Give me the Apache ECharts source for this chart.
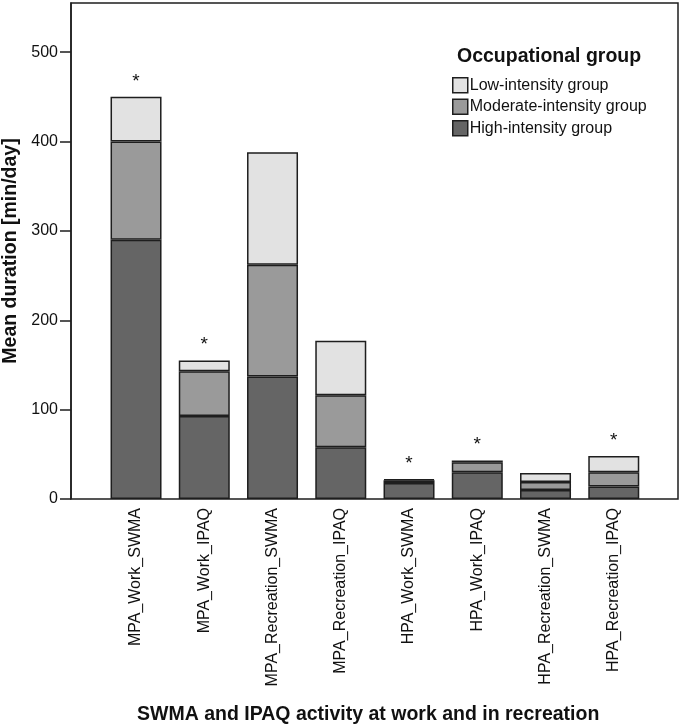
<!DOCTYPE html>
<html><head><meta charset="utf-8">
<script src="https://cdn.jsdelivr.net/npm/echarts@6/dist/echarts.min.js"></script>
<style>html,body{margin:0;padding:0;background:#fff}#c{width:683px;height:724px}</style>
</head><body><div id="c"></div>
<script>
const categories = ["MPA_Work_SWMA","MPA_Work_IPAQ","MPA_Recreation_SWMA","MPA_Recreation_IPAQ","HPA_Work_SWMA","HPA_Work_IPAQ","HPA_Recreation_SWMA","HPA_Recreation_IPAQ"];
const highIntensity = [290, 93, 137, 58, 18, 30, 10, 14];
const moderateIntensity = [110, 50, 125, 58, 3, 11, 9, 16];
const lowIntensity = [50, 12, 126, 61, 1, 2, 10, 18];
const significant = [true, true, false, false, true, true, false, true];
const yTicks = [0, 100, 200, 300, 400, 500];
const seriesNames = ["Low-intensity group", "Moderate-intensity group", "High-intensity group"];

const FONT = '"Liberation Sans", Arial, sans-serif';
const chart = echarts.init(document.getElementById('c'), null, {renderer: 'canvas'});
const border = {borderColor: '#1e1e1e', borderWidth: 1.5};
chart.setOption({
  animation: false,
  textStyle: {fontFamily: FONT},
  grid: {left: 101.9, right: 35.1, top: 3, bottom: 225, containLabel: false, outerBoundsMode: 'none'},
  title: {
    text: 'SWMA and IPAQ activity at work and in recreation',
    left: 132, top: 700,
    textStyle: {fontFamily: FONT, fontSize: 19.5, fontWeight: 'bold', color: '#111'}
  },
  legend: {
    data: seriesNames,
    orient: 'vertical',
    left: 447, top: 72,
    itemWidth: 15, itemHeight: 15, itemGap: 5,
    icon: 'rect',
    textStyle: {fontFamily: FONT, fontSize: 16, color: '#111', padding: [0,0,0,-3]},
    itemStyle: {borderColor: '#1e1e1e', borderWidth: 1.5}
  },
  graphic: [
    {type: 'rect', shape: {x: 71, y: 3, width: 607, height: 496}, style: {fill: 'none', stroke: '#1e1e1e', lineWidth: 1.5}, z: 100},
    {type: 'text', left: 457, top: 47, style: {text: 'Occupational group', font: 'bold 19.5px ' + FONT, fill: '#111'}}
  ],
  xAxis: {
    type: 'category', data: categories,
    axisLine: {show: false},
    axisTick: {alignWithLabel: true, length: 8, lineStyle: {color: '#1e1e1e', width: 1.5}},
    axisLabel: {rotate: 90, fontSize: 16, color: '#111', margin: 9, fontFamily: FONT},
    splitLine: {show: false}
  },
  yAxis: {
    type: 'value', min: 0, max: 555, interval: 100,
    offset: 30.9,
    name: 'Mean duration [min/day]', nameLocation: 'middle', nameGap: 46,
    nameTextStyle: {fontSize: 19.5, fontWeight: 'bold', color: '#111', fontFamily: FONT},
    axisLine: {show: true, lineStyle: {color: '#1e1e1e', width: 1.5}},
    axisTick: {show: true, length: 11, customValues: yTicks, lineStyle: {color: '#1e1e1e', width: 1.5}},
    axisLabel: {fontSize: 16, color: '#111', margin: 13, customValues: yTicks, fontFamily: FONT},
    splitLine: {show: false}
  },
  series: [
    {name: seriesNames[2], type: 'bar', stack: 'a', data: highIntensity, barWidth: 51,
     itemStyle: Object.assign({color: '#656565'}, border)},
    {name: seriesNames[1], type: 'bar', stack: 'a', data: moderateIntensity, barWidth: 51,
     itemStyle: Object.assign({color: '#9a9a9a'}, border)},
    {name: seriesNames[0], type: 'bar', stack: 'a', data: lowIntensity, barWidth: 51,
     itemStyle: Object.assign({color: '#e2e2e2'}, border),
     label: {show: true, position: 'top', distance: 6, fontSize: 19, color: '#111', fontFamily: FONT,
       formatter: p => significant[p.dataIndex] ? '*' : ''}}
  ]
});
</script></body></html>
